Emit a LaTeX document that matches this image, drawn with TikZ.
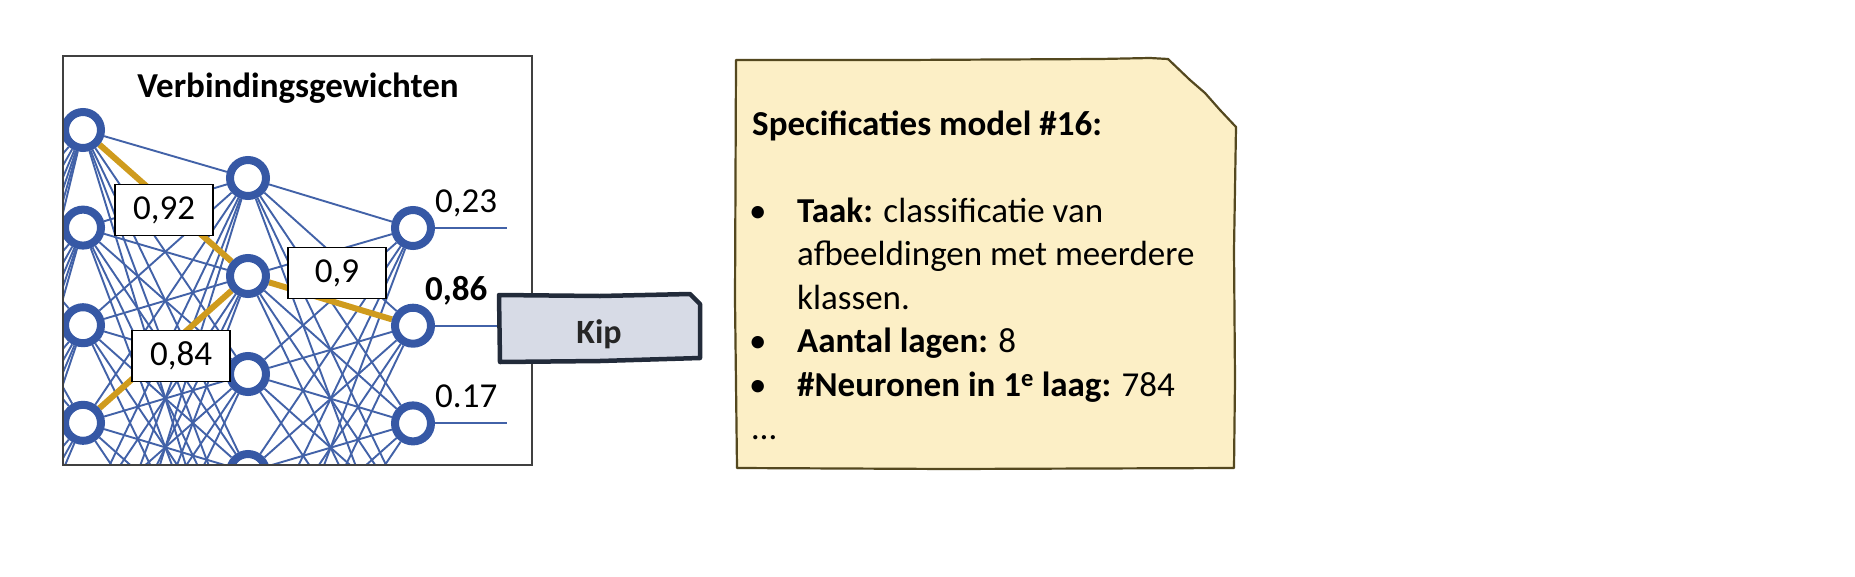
\documentclass[tikz,border=0pt]{standalone}
\usepackage{fontspec}
\setmainfont{Carlito}
\usetikzlibrary{backgrounds}

\definecolor{netblue}{HTML}{3658A5}
\definecolor{wireblue}{HTML}{4262A8}
\definecolor{pathgold}{HTML}{CF9B1D}
\definecolor{kipfill}{HTML}{D7DBE6}
\definecolor{kipline}{HTML}{222B3A}
\definecolor{notefill}{HTML}{FCEFC6}
\definecolor{noteline}{HTML}{54481F}

\begin{document}
\begin{tikzpicture}[x=1pt,y=-1pt,
  neuron/.style={circle,draw=netblue,line width=8pt,fill=white,minimum size=36pt,inner sep=0pt},
  wire/.style={wireblue,line width=1.9pt},
  hot/.style={pathgold,line width=6pt},
  weight/.style={draw=black,line width=1.2pt,fill=white,minimum width=98pt,minimum height=51pt,inner sep=0pt,font=\fontsize{35}{40}\selectfont},
  outval/.style={font=\fontsize{35}{40}\selectfont,inner sep=0pt,anchor=base west}]
  \useasboundingbox (0,0) rectangle (1855,576);

  % neuronen, geknipt op het kader
  \begin{scope}
    \clip (63,56) rectangle (532,465);
    \foreach \i in {0,...,7} \node[neuron] (a\i) at (-82,130+97.5*\i) {};
    \foreach \i in {0,...,6} \node[neuron] (b\i) at (83,130+97.6*\i) {};
    \foreach \i in {0,...,5} \node[neuron] (c\i) at (248,178+98*\i) {};
    \foreach \i in {0,...,4} \node[neuron] (d\i) at (413,228+97.7*\i) {};
  \end{scope}

  % verbindingen
  \begin{scope}[on background layer]
    \fill[white] (0,0) rectangle (1855,576);
    \clip (63,56) rectangle (532,465);
    \foreach \i in {0,...,7} \foreach \j in {0,...,6} \draw[wire] (a\i) -- (b\j);
    \foreach \i in {0,...,6} \foreach \j in {0,...,5} \draw[wire] (b\i) -- (c\j);
    \foreach \i in {0,...,5} \foreach \j in {0,...,4} \draw[wire] (c\i) -- (d\j);
    \foreach \k in {0,1,2} {
      \coordinate (o\k) at (507,228+97.7*\k);
      \draw[wire] (d\k) -- (o\k);
    }
    \draw[hot] (b0) -- (c1);
    \draw[hot] (b3) -- (c1);
    \draw[hot] (c1) -- (d1);
  \end{scope}

  \draw[black!75,line width=1.3pt] (63,56) rectangle (532,465);
  \node[font=\bfseries\fontsize{35}{40}\selectfont,anchor=base] (titel) at (298,97) {Verbindingsgewichten};

  \node[weight] (w1) at (164,210) {0,92};
  \node[weight] (w2) at (337,273) {0,9};
  \node[weight] (w3) at (181,356) {0,84};

  \node[outval] (v1) at (435,212) {0,23};
  \node[outval,font=\bfseries\fontsize{35}{40}\selectfont] (v2) at (425,300) {0,86};
  \node[outval] (v3) at (435,407) {0.17};

  % label
  \draw[kipline,line width=4.5pt,fill=kipfill,line join=round]
    (499,295) -- (600,296) -- (690,294) -- (700,304) -- (700,358) -- (600,361) -- (500,362) -- cycle;
  \node[font=\bfseries\fontsize{34}{40}\selectfont,text=black!85,anchor=base] (kip) at (599,343) {Kip};

  % specificaties
  \draw[noteline,line width=2.2pt,fill=notefill,line join=round]
    (736,60) -- (900,60) -- (1100,59) -- (1150,58) -- (1168,59) -- (1190,80) -- (1205,93)
    -- (1220,110) -- (1236,127) -- (1234,250) -- (1235,380) -- (1234,468) -- (950,469)
    -- (737,468) -- (735,300) -- cycle;
  \node[anchor=base west,inner sep=0pt,font=\fontsize{35}{43.5}\selectfont] (spec) at (752,135) {%
    \begin{tabular}[t]{@{}p{45pt}@{}l@{}}
      \multicolumn{2}{@{}l@{}}{\textbf{Specificaties model \#16:}}\\[43.5pt]
      \hspace*{-3pt}\textbullet & \textbf{Taak:} classificatie van\\
                  & afbeeldingen met meerdere\\
                  & klassen.\\
      \hspace*{-3pt}\textbullet & \textbf{Aantal lagen:} 8\\
      \hspace*{-3pt}\textbullet & \textbf{\#Neuronen in 1\textsuperscript{e} laag:} 784\\
      \multicolumn{2}{@{}l@{}}{\dots}
    \end{tabular}};
\end{tikzpicture}
\end{document}
